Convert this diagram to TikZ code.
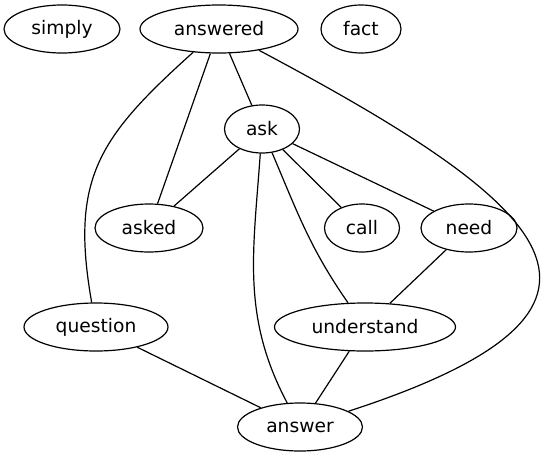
\documentclass[tikz,border=0pt]{standalone}
\usepackage{fontspec}
\setmainfont{DejaVu Sans}
\usetikzlibrary{shapes.geometric}
\begin{document}
\begin{tikzpicture}[x=1pt, y=-1pt, line width=1.2pt,
    word/.style={ellipse, draw, inner sep=0pt, minimum height=48pt, font=\fontsize{18.67}{22}\selectfont}]
\useasboundingbox (0,0) rectangle (547,456);

\draw (62,29) node[word, minimum width=116pt] (simply) {simply};
\draw (219,29) node[word, minimum width=158pt] (answered) {answered};
\draw (361,29) node[word, minimum width=80pt] (fact) {fact};
\draw (262,129) node[word, minimum width=75pt] (ask) {ask};
\draw (149,228) node[word, minimum width=108pt] (asked) {asked};
\draw (362,228) node[word, minimum width=75pt] (call) {call};
\draw (469,228) node[word, minimum width=96pt] (need) {need};
\draw (96,327) node[word, minimum width=144pt] (question) {question};
\draw (365,327) node[word, minimum width=181pt] (understand) {understand};
\draw (300,427) node[word, minimum width=125pt] (answer) {answer};

\draw (answered) -- (ask);
\draw (answered) -- (asked);
\draw (answered) to [out=222, in=100, looseness=1.2] (question);
\draw (answered) to [out=332, in=18, looseness=2.3] (answer);
\draw (ask) -- (asked);
\draw (ask) -- (call);
\draw (ask) -- (need);
\draw (ask) to [out=293, in=125] (understand);
\draw (ask) to [out=266, in=118] (answer);
\draw (need) -- (understand);
\draw (question) -- (answer);
\draw (understand) -- (answer);

\end{tikzpicture}
\end{document}
